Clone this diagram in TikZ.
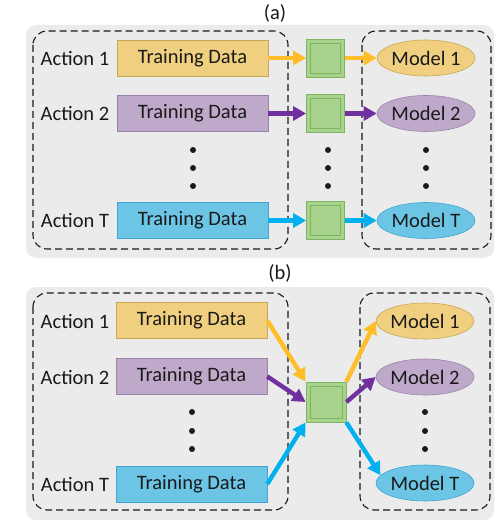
\documentclass[tikz,border=0pt]{standalone}
\usepackage{fontspec}
\setmainfont{Carlito}
\usetikzlibrary{arrows.meta,shapes.geometric}
\definecolor{tmgray}{HTML}{EBEBEB}
\definecolor{tmink}{HTML}{1A1A1A}
\definecolor{tmyellow}{HTML}{F0D080}
\definecolor{tmyellowline}{HTML}{C9A654}
\definecolor{tmpurple}{HTML}{BFA9CB}
\definecolor{tmpurpleline}{HTML}{9B82AB}
\definecolor{tmblue}{HTML}{6CC5E5}
\definecolor{tmblueline}{HTML}{3FA6CF}
\definecolor{tmgreen}{HTML}{A8D38D}
\definecolor{tmgreenline}{HTML}{7EB360}
\definecolor{arryellow}{HTML}{FFBE28}
\definecolor{arrpurple}{HTML}{7030A0}
\definecolor{arrblue}{HTML}{00B0F0}
\tikzset{
  tm text/.style={font=\fontsize{20.5}{24}\selectfont, text=tmink},
  tm panel/.style={fill=tmgray, draw=none, rounded corners=10pt},
  tm group/.style={draw=tmink, line width=1.1pt, dash pattern=on 7pt off 4pt,
    rounded corners=14pt},
  tm data/.style={draw, line width=0.6pt, minimum width=151pt, minimum height=36pt,
    inner sep=0pt},
  tm model/.style={ellipse, draw, line width=0.6pt, minimum width=98pt,
    minimum height=36pt, inner sep=0pt},
  tm net/.style={draw=tmgreenline, fill=tmgreen, line width=0.8pt,
    minimum width=38pt, minimum height=38pt, inner sep=0pt},
  tm inner/.style={draw=tmgreenline, line width=0.6pt, minimum width=30pt,
    minimum height=30pt, inner sep=0pt},
  tm arrow/.style={-{Triangle[length=13pt,width=14pt]}, line width=4.4pt}
}

\begin{document}
\begin{tikzpicture}[tm text, x=1pt, y=-1pt]
  \useasboundingbox (0,0) rectangle (503,529);
  % (a) one model per action
  \node at (275,13) {(a)};
  \fill[tm panel] (26,25) rectangle (494,258);
  \draw[tm group] (33,31) rectangle (288,249);
  \draw[tm group] (362,31) rectangle (491,249);
  \node (actA1) at (75,58) {Action 1};
  \node (actA2) at (75,113) {Action 2};
  \node (actAT) at (75,220) {Action T};
  \node[tm data, fill=tmyellow, draw=tmyellowline] (tdA1) at (192.5,58) {Training Data};
  \node[tm data, fill=tmpurple, draw=tmpurpleline] (tdA2) at (192.5,113.5) {Training Data};
  \node[tm data, fill=tmblue, draw=tmblueline] (tdAT) at (192.5,220.5) {Training Data};
  \foreach \r/\y in {1/58,2/113.5,T/220.5} {
    \node[tm net] (netA\r) at (325.5,\y) {};
    \node[tm inner] at (netA\r) {};
  }
  \node[tm model, fill=tmyellow, draw=tmyellowline] (mdA1) at (426,58) {Model 1};
  \node[tm model, fill=tmpurple, draw=tmpurpleline] (mdA2) at (426,113.5) {Model 2};
  \node[tm model, fill=tmblue, draw=tmblueline] (mdAT) at (426,220.5) {Model T};
  \draw[tm arrow, arryellow] (tdA1) -- (netA1);
  \draw[tm arrow, arryellow] (netA1) -- (mdA1);
  \draw[tm arrow, arrpurple] (tdA2) -- (netA2);
  \draw[tm arrow, arrpurple] (netA2) -- (mdA2);
  \draw[tm arrow, arrblue] (tdAT) -- (netAT);
  \draw[tm arrow, arrblue] (netAT) -- (mdAT);
  \foreach \x in {193,328,426} {
    \foreach \y in {150,168,186} {\fill[tmink] (\x,\y) circle (3pt);}
  }
  % (b) one shared model
  \node at (280,273) {(b)};
  \fill[tm panel] (26,287) rectangle (494,520);
  \draw[tm group] (33,293) rectangle (288,510);
  \draw[tm group] (360,293) rectangle (490,510);
  \node (actB1) at (75,321) {Action 1};
  \node (actB2) at (75,377) {Action 2};
  \node (actBT) at (75,484) {Action T};
  \node[tm data, fill=tmyellow, draw=tmyellowline] (tdB1) at (191.5,320.5) {Training Data};
  \node[tm data, fill=tmpurple, draw=tmpurpleline] (tdB2) at (191.5,376.5) {Training Data};
  \node[tm data, fill=tmblue, draw=tmblueline] (tdBT) at (191.5,484) {Training Data};
  \node[tm net, minimum width=40pt, minimum height=40pt] (netB) at (326,402) {};
  \node[tm inner, minimum width=32pt, minimum height=32pt] at (netB) {};
  \node[tm model, fill=tmyellow, draw=tmyellowline] (mdB1) at (425,321) {Model 1};
  \node[tm model, fill=tmpurple, draw=tmpurpleline] (mdB2) at (425,377) {Model 2};
  \node[tm model, fill=tmblue, draw=tmblueline] (mdBT) at (425,483) {Model T};
  \draw[tm arrow, arryellow] (tdB1.east) -- (netB.north west);
  \draw[tm arrow, arrpurple] (tdB2.east) -- (netB.west);
  \draw[tm arrow, arrblue] (tdBT.east) -- (netB.south west);
  \draw[tm arrow, arryellow] (netB.north east) -- (mdB1.west);
  \draw[tm arrow, arrpurple] (netB.east) -- (mdB2.west);
  \draw[tm arrow, arrblue] (netB.south east) -- (mdBT.170);
  \foreach \x in {192,425} {
    \foreach \y in {412,431,449} {\fill[tmink] (\x,\y) circle (3pt);}
  }
\end{tikzpicture}
\end{document}
